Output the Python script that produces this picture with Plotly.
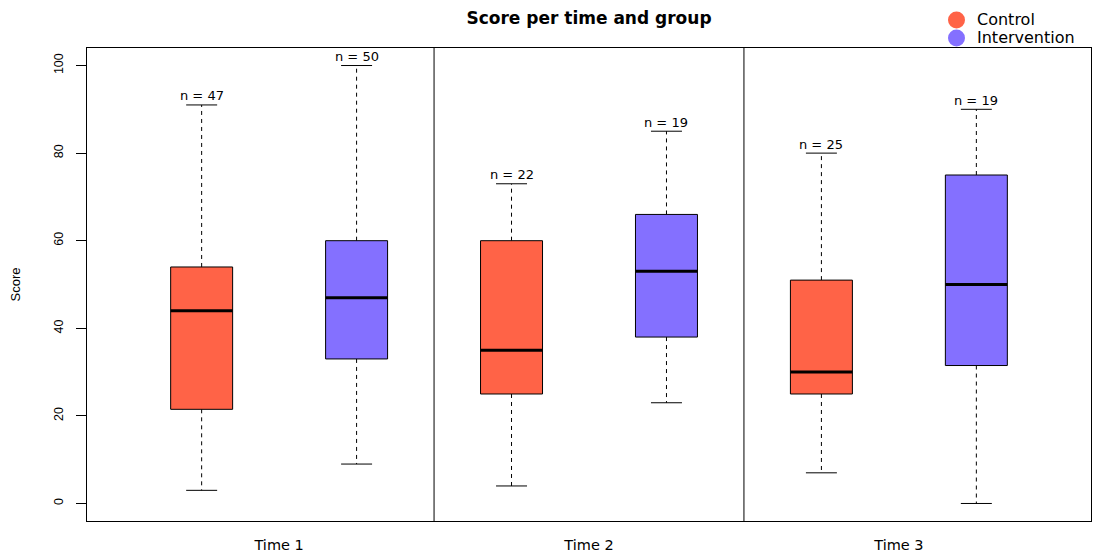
import plotly.graph_objects as go

# ---- data ----
groups = ["Time 1", "Time 2", "Time 3"]
series_names = ["Control", "Intervention"]
series_colors = ["#FF6347", "#8470FF"]

ctrl_low = [3, 4, 7]
ctrl_q1 = [21.5, 25, 25]
ctrl_med = [44, 35, 30]
ctrl_q3 = [54, 60, 51]
ctrl_high = [91, 73, 80]
ctrl_n = [47, 22, 25]

int_low = [9, 23, 0]
int_q1 = [33, 38, 31.5]
int_med = [47, 53, 50]
int_q3 = [60, 66, 75]
int_high = [100, 85, 90]
int_n = [50, 19, 19]

y_ticks = [0, 20, 40, 60, 80, 100]

series = [
    dict(low=ctrl_low, q1=ctrl_q1, med=ctrl_med, q3=ctrl_q3, high=ctrl_high, n=ctrl_n),
    dict(low=int_low, q1=int_q1, med=int_med, q3=int_q3, high=int_high, n=int_n),
]

BOX_HALF = 0.2
CAP_HALF = 0.1
n_series = len(series)
n_groups = len(groups)

W, H = 1093, 557
ML, MR, MT, MB = 87, 2, 48, 36
PW, PH = W - ML - MR, H - MT - MB


def px_to_paper(px, py):
    return (px - ML) / PW, (H - MB - py) / PH


fig = go.Figure()
annotations = []
shapes = []

for k, s in enumerate(series):
    pos = [g * n_series + k + 1 for g in range(n_groups)]
    bx, by, mx, my, wx, wy, cx, cy = [], [], [], [], [], [], [], []
    for i, p in enumerate(pos):
        l, r = p - BOX_HALF, p + BOX_HALF
        bx += [l, r, r, l, l, None]
        by += [s["q1"][i], s["q1"][i], s["q3"][i], s["q3"][i], s["q1"][i], None]
        mx += [l, r, None]
        my += [s["med"][i], s["med"][i], None]
        wx += [p, p, None, p, p, None]
        wy += [s["q3"][i], s["high"][i], None, s["q1"][i], s["low"][i], None]
        cx += [p - CAP_HALF, p + CAP_HALF, None, p - CAP_HALF, p + CAP_HALF, None]
        cy += [s["high"][i], s["high"][i], None, s["low"][i], s["low"][i], None]
        annotations.append(dict(
            x=p, y=s["high"][i], xref="x", yref="y", text=f"n = {s['n'][i]}",
            showarrow=False, yanchor="middle", yshift=9,
            font=dict(family="DejaVu Sans", size=13, color="black")))
    # whiskers (dashed)
    fig.add_trace(go.Scatter(x=wx, y=wy, mode="lines", showlegend=False,
                             line=dict(color="black", width=1, dash="4px,4px"),
                             hoverinfo="skip"))
    # caps
    fig.add_trace(go.Scatter(x=cx, y=cy, mode="lines", showlegend=False,
                             line=dict(color="black", width=1), hoverinfo="skip"))
    # boxes
    fig.add_trace(go.Scatter(x=bx, y=by, mode="lines", fill="toself",
                             fillcolor=series_colors[k], name=series_names[k],
                             showlegend=False,
                             line=dict(color="black", width=1), hoverinfo="skip"))
    # medians
    fig.add_trace(go.Scatter(x=mx, y=my, mode="lines", showlegend=False,
                             line=dict(color="black", width=3), hoverinfo="skip"))

# legend drawn by hand (R-style, tight spacing)
for k, name in enumerate(series_names):
    cxp, cyp = px_to_paper(956.5, 20 + 18 * k)
    shapes.append(dict(type="circle", xref="paper", yref="paper",
                       xsizemode="pixel", ysizemode="pixel",
                       xanchor=cxp, yanchor=cyp, x0=-8.5, x1=8.5, y0=-8.5, y1=8.5,
                       fillcolor=series_colors[k], line=dict(width=0)))
    txp, typ = px_to_paper(975, 20 + 18 * k)
    annotations.append(dict(x=txp, y=typ, xref="paper", yref="paper", text=name,
                            showarrow=False, xanchor="left", yanchor="middle",
                            font=dict(family="DejaVu Sans", size=16, color="black")))

# group dividers
for g in range(1, n_groups):
    xd = g * n_series + 0.5
    shapes.append(dict(type="line", xref="x", yref="paper", x0=xd, x1=xd, y0=0, y1=1,
                       line=dict(color="black", width=1)))

group_centers = [g * n_series + (n_series + 1) / 2 for g in range(n_groups)]
total = n_groups * n_series
xpad = 0.04 * total

fig.update_layout(
    width=W, height=H,
    margin=dict(l=ML, r=MR, t=MT, b=MB),
    paper_bgcolor="white", plot_bgcolor="white",
    title=dict(text="<b>Score per time and group</b>", x=0.5, xref="paper",
               y=1 - 18 / H, yanchor="middle",
               font=dict(family="DejaVu Sans", size=17, color="black")),
    xaxis=dict(range=[0.5 - xpad, total + 0.5 + xpad], tickvals=group_centers,
               ticktext=groups, ticks="", showgrid=False, zeroline=False,
               showline=True, mirror=True, linecolor="black", linewidth=1,
               ticklabelstandoff=11,
               tickfont=dict(family="DejaVu Sans", size=14.5, color="black")),
    yaxis=dict(range=[-4, 104], tickvals=y_ticks, ticks="outside", ticklen=10,
               tickcolor="black", tickangle=-90, showgrid=False, zeroline=False,
               showline=True, mirror=True, linecolor="black", linewidth=1,
               ticklabelstandoff=8,
               tickfont=dict(family="Liberation Sans", size=12.5, color="black"),
               title=dict(text="Score", standoff=28,
                          font=dict(family="Liberation Sans", size=13, color="black"))),
    shapes=shapes,
    annotations=annotations,
    showlegend=False,
)

fig.write_html("out.html")
